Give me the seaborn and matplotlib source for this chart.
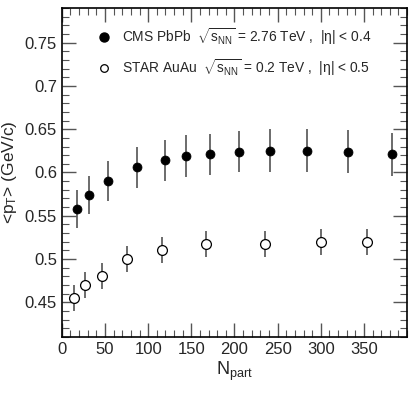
import numpy as np
import matplotlib
matplotlib.use("Agg")
import matplotlib.pyplot as plt
from matplotlib.ticker import MultipleLocator
import seaborn as sns
import pandas as pd

# CMS PbPb 2.76 TeV, |eta| < 0.4
cms_npart = [17, 31, 54, 87, 119, 144, 172, 205, 241, 284, 331, 383]
cms_pt = [0.558, 0.574, 0.590, 0.606, 0.614, 0.619, 0.621, 0.624, 0.625, 0.625, 0.624, 0.621]
cms_err = [0.022, 0.022, 0.023, 0.024, 0.024, 0.024, 0.024, 0.024, 0.025, 0.025, 0.025, 0.025]

# STAR AuAu 0.2 TeV, |eta| < 0.5
star_npart = [14, 27, 47, 76, 116, 167, 235, 300, 354]
star_pt = [0.455, 0.470, 0.480, 0.500, 0.510, 0.517, 0.518, 0.520, 0.520]
star_err = [0.015, 0.015, 0.015, 0.015, 0.015, 0.015, 0.015, 0.015, 0.015]

sns.set_style("ticks")
plt.rcParams["font.family"] = ["Liberation Sans", "DejaVu Sans"]
plt.rcParams["mathtext.fontset"] = "custom"
plt.rcParams["mathtext.rm"] = "Liberation Sans"
plt.rcParams["mathtext.it"] = "Liberation Sans:italic"
plt.rcParams["mathtext.sf"] = "Liberation Sans"

cms = pd.DataFrame({"npart": cms_npart, "pt": cms_pt, "err": cms_err})
star = pd.DataFrame({"npart": star_npart, "pt": star_pt, "err": star_err})

fig = plt.figure(figsize=(4.15, 3.97), dpi=100)
ax = fig.add_axes([0.149, 0.151, 0.832, 0.829])

# error bars first, markers on top
ax.errorbar(cms["npart"], cms["pt"], yerr=cms["err"], fmt="none", ecolor="#444444", elinewidth=1.1, capsize=0)
ax.errorbar(star["npart"], star["pt"], yerr=star["err"], fmt="none", ecolor="#444444", elinewidth=1.1, capsize=0)

sns.scatterplot(data=cms, x="npart", y="pt", ax=ax, color="black", edgecolor="black", s=42, zorder=3)
sns.scatterplot(data=star, x="npart", y="pt", ax=ax, color="white", edgecolor="black", linewidth=0.9, s=50, zorder=3)

ax.set_xlim(0, 400)
ax.set_ylim(0.41, 0.79)
ax.xaxis.set_major_locator(MultipleLocator(50))
ax.xaxis.set_minor_locator(MultipleLocator(10))
ax.yaxis.set_major_locator(MultipleLocator(0.05))
ax.yaxis.set_minor_locator(MultipleLocator(0.01))
ax.set_yticks([0.45, 0.5, 0.55, 0.6, 0.65, 0.7, 0.75])
ax.set_yticklabels(["0.45", "0.5", "0.55", "0.6", "0.65", "0.7", "0.75"])
ax.set_xticks([0, 50, 100, 150, 200, 250, 300, 350])

ax.tick_params(which="both", direction="in", top=True, right=True, labelsize=12, color="#555555")
ax.tick_params(which="major", length=10, width=1)
ax.tick_params(which="minor", length=5, width=0.8)
for s in ax.spines.values():
    s.set_linewidth(1.2)
    s.set_color("black")

ax.set_xlabel(r"N$_{\rm part}$", fontsize=13, labelpad=2)
ax.set_ylabel(r"<p$_{\rm T}$> (GeV/c)", fontsize=12.5)
ax.yaxis.set_label_coords(-0.125, 0.5)

# legend
ax.scatter([0.122], [0.913], transform=ax.transAxes, s=42, color="black", zorder=4)
ax.scatter([0.122], [0.818], transform=ax.transAxes, s=30, facecolor="white", edgecolor="black", linewidth=0.9, zorder=4)
ax.text(0.175, 0.913, r"CMS PbPb  $\sqrt{\rm s_{NN}}$ = 2.76 TeV ,  |$\rm\eta$| < 0.4",
        transform=ax.transAxes, fontsize=9.9, va="center")
ax.text(0.175, 0.818, r"STAR AuAu  $\sqrt{\rm s_{NN}}$ = 0.2 TeV ,  |$\rm\eta$| < 0.5",
        transform=ax.transAxes, fontsize=9.9, va="center")

plt.savefig("out.png", dpi=100)
